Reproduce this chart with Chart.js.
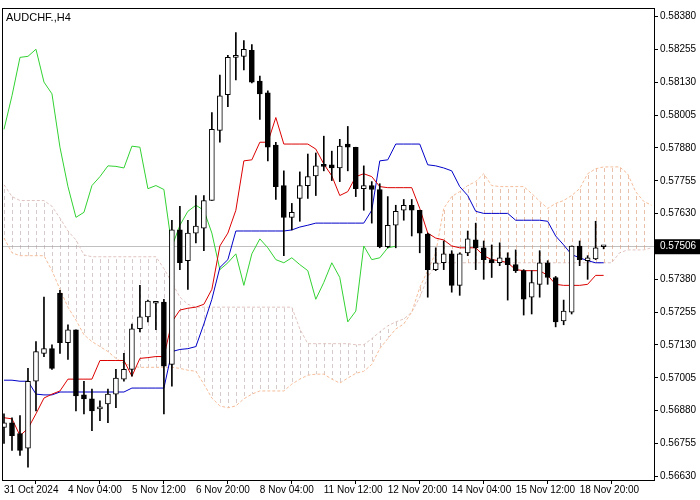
<!DOCTYPE html>
<html><head><meta charset="utf-8">
<script src="https://cdn.jsdelivr.net/npm/chart.js@4.4.1/dist/chart.umd.min.js"></script>
<style>html,body{margin:0;padding:0;background:#fff}canvas{display:block}</style>
</head><body>
<canvas id="c" width="700" height="500"></canvas>
<script>
const chartTitle = "AUDCHF.,H4";
const xTickLabels = {0:"31 Oct 2024",8:"4 Nov 04:00",16:"5 Nov 12:00",24:"6 Nov 20:00",32:"8 Nov 04:00",40:"11 Nov 12:00",48:"12 Nov 20:00",56:"14 Nov 04:00",64:"15 Nov 12:00",72:"18 Nov 20:00"};
const yTicks = [0.56630,0.56755,0.56880,0.57005,0.57130,0.57255,0.57380,0.57505,0.57630,0.57755,0.57880,0.58005,0.58130,0.58255,0.58380];
const lastPrice = 0.57506;

const opens = [0.56816,0.56834,0.56793,0.56737,0.56992,0.57098,0.57116,0.57327,0.57139,0.57188,
0.56940,0.56925,0.56887,0.56906,0.56943,0.57000,0.57037,0.57192,0.57237,0.57289,
0.57293,0.57056,0.57568,0.57451,0.57556,0.57575,0.57680,0.57947,0.58083,0.58225,
0.58229,0.58252,0.58135,0.58090,0.57891,0.57737,0.57616,0.57688,0.57737,0.57774,
0.57812,0.57816,0.57804,0.57895,0.57883,0.57725,0.57737,0.57722,0.57504,0.57586,
0.57643,0.57662,0.57643,0.57552,0.57417,0.57443,0.57477,0.57357,0.57481,0.57530,
0.57500,0.57455,0.57443,0.57462,0.57436,0.57413,0.57312,0.57361,0.57443,0.57387,
0.57222,0.57255,0.57507,0.57451,0.57458,0.57504];
const highs = [0.56868,0.56853,0.56861,0.57041,0.57143,0.57312,0.57131,0.57338,0.57207,0.57188,
0.56992,0.56962,0.56917,0.56962,0.57037,0.57098,0.57210,0.57357,0.57301,0.57293,
0.57304,0.57605,0.57658,0.57605,0.57699,0.57699,0.58015,0.58158,0.58233,0.58319,
0.58289,0.58274,0.58154,0.58098,0.57902,0.57793,0.57669,0.57789,0.57857,0.57861,
0.57925,0.57868,0.57913,0.57962,0.57883,0.57812,0.57752,0.57744,0.57695,0.57662,
0.57684,0.57684,0.57643,0.57556,0.57500,0.57526,0.57489,0.57481,0.57564,0.57594,
0.57526,0.57511,0.57519,0.57481,0.57492,0.57417,0.57413,0.57489,0.57451,0.57391,
0.57301,0.57507,0.57526,0.57470,0.57601,0.57507];
const lows = [0.56755,0.56729,0.56710,0.56665,0.56879,0.57086,0.57037,0.57098,0.57075,0.56879,
0.56868,0.56804,0.56842,0.56834,0.56891,0.56992,0.57011,0.57180,0.57218,0.57188,
0.56868,0.56973,0.57417,0.57342,0.57519,0.57489,0.57680,0.57902,0.58037,0.58139,
0.58177,0.58128,0.57989,0.57831,0.57684,0.57470,0.57568,0.57601,0.57688,0.57699,
0.57793,0.57756,0.57752,0.57793,0.57695,0.57643,0.57594,0.57500,0.57500,0.57500,
0.57605,0.57545,0.57481,0.57312,0.57413,0.57417,0.57331,0.57319,0.57470,0.57417,
0.57380,0.57387,0.57432,0.57301,0.57406,0.57244,0.57248,0.57312,0.57361,0.57199,
0.57207,0.57248,0.57432,0.57380,0.57455,0.57496];
const closes = [0.56834,0.56785,0.56729,0.56992,0.57105,0.57116,0.57041,0.57139,0.57188,0.56936,
0.56925,0.56879,0.56894,0.56943,0.57004,0.57037,0.57192,0.57237,0.57297,0.57291,
0.57049,0.57568,0.57443,0.57556,0.57583,0.57680,0.57951,0.58079,0.58225,0.58229,
0.58256,0.58131,0.58086,0.57883,0.57733,0.57616,0.57635,0.57737,0.57771,0.57812,
0.57810,0.57804,0.57887,0.57883,0.57725,0.57737,0.57722,0.57504,0.57586,0.57639,
0.57662,0.57643,0.57556,0.57417,0.57443,0.57477,0.57357,0.57477,0.57534,0.57500,
0.57455,0.57443,0.57462,0.57436,0.57413,0.57304,0.57368,0.57443,0.57387,0.57218,
0.57259,0.57507,0.57455,0.57462,0.57500,0.57506];
const tenkan = [0.56853,0.56849,0.56785,0.56812,0.56868,0.56928,0.56943,0.56955,0.57000,0.57000,
0.57000,0.57000,0.57071,0.57071,0.57071,0.57071,0.57011,0.57079,0.57082,0.57086,
0.57086,0.57218,0.57263,0.57270,0.57274,0.57285,0.57342,0.57507,0.57556,0.57643,
0.57831,0.57835,0.57902,0.57902,0.57996,0.57895,0.57895,0.57895,0.57895,0.57876,
0.57819,0.57774,0.57699,0.57714,0.57771,0.57782,0.57771,0.57733,0.57729,0.57729,
0.57729,0.57729,0.57650,0.57556,0.57537,0.57530,0.57507,0.57500,0.57500,0.57500,
0.57470,0.57455,0.57451,0.57443,0.57417,0.57413,0.57413,0.57413,0.57395,0.57361,
0.57357,0.57357,0.57357,0.57361,0.57395,0.57395];
const kijun = [0.56996,0.56996,0.56992,0.56992,0.56943,0.56940,0.56940,0.56951,0.56951,0.56951,
0.56951,0.56951,0.56951,0.56951,0.56951,0.56951,0.56966,0.56966,0.56966,0.56966,
0.56966,0.57105,0.57113,0.57116,0.57124,0.57210,0.57304,0.57425,0.57455,0.57564,
0.57564,0.57564,0.57564,0.57564,0.57564,0.57564,0.57568,0.57579,0.57586,0.57594,
0.57594,0.57594,0.57594,0.57594,0.57594,0.57594,0.57643,0.57831,0.57835,0.57895,
0.57895,0.57895,0.57895,0.57816,0.57812,0.57804,0.57793,0.57733,0.57699,0.57639,
0.57631,0.57631,0.57631,0.57631,0.57605,0.57605,0.57605,0.57605,0.57601,0.57545,
0.57511,0.57474,0.57462,0.57451,0.57443,0.57443];
// Senkou span A (82 values, shifted 26 bars forward)
const spanA = [0.57537,0.57481,0.57470,0.57470,0.57470,0.57470,
0.57413,0.57342,0.57274,0.57225,0.57169,0.57143,0.57124,0.57105,0.57079,0.57060,0.57049,
0.57045,0.57045,0.57045,0.57045,0.57045,
0.57041,0.57034,0.57030,0.56981,0.56928,0.56898,0.56891,0.56898,0.56925,0.56943,
0.56955,0.56955,0.56955,0.56955,
0.56981,0.57000,0.57015,0.57019,0.57019,
0.57000,0.56985,0.57004,0.57022,0.57030,0.57056,0.57116,0.57154,0.57191,0.57210,0.57255,0.57349,0.57413,
0.57481,0.57650,0.57695,0.57714,0.57737,0.57752,0.57782,0.57737,0.57733,0.57733,0.57733,0.57733,0.57707,0.57677,0.57650,0.57669,0.57680,0.57699,0.57725,0.57782,0.57801,0.57808,0.57808,0.57808,0.57782,0.57714,0.57677,0.57662];
// Senkou span B
const spanB = [0.57740,0.57695,0.57680,0.57680,0.57680,0.57680,0.57658,0.57613,0.57564,0.57530,0.57473,
0.57466,0.57466,0.57466,0.57466,0.57466,0.57466,0.57466,0.57466,0.57466,
0.57421,0.57368,0.57312,0.57285,
0.57274,0.57274,0.57274,0.57274,0.57274,0.57274,0.57274,0.57274,0.57274,0.57274,0.57274,0.57274,0.57274,
0.57191,0.57135,0.57135,0.57135,
0.57135,0.57135,0.57135,0.57131,0.57131,0.57154,0.57180,0.57203,0.57218,0.57229,0.57255,0.57312,0.57387,
0.57436,0.57443,0.57443,0.57443,0.57443,0.57443,0.57443,0.57443,0.57443,0.57443,0.57443,0.57443,0.57443,0.57443,0.57443,0.57443,0.57443,0.57443,0.57443,0.57443,0.57443,0.57443,0.57443,
0.57481,0.57492,0.57492,0.57492,0.57500];
const chikouShift = 26;

function hatch(color){
  const p=document.createElement('canvas'); p.width=8; p.height=7;
  const g=p.getContext('2d'); g.fillStyle=color; g.fillRect(4,0,1,4);
  return document.getElementById('c').getContext('2d').createPattern(p,'repeat');
}
const wickData = highs.map((h,i)=>({x:i,y:[lows[i],h]}));
const bodyData = opens.map((o,i)=>({x:i,y:[Math.min(o,closes[i]),Math.max(o,closes[i])]}));
const bodyFill = opens.map((o,i)=> closes[i]>=o ? '#ffffff' : '#000000');
const pts = a => a.map((v,i)=>({x:i,y:v}));
const chikou = closes.slice(chikouShift).map((v,i)=>({x:i,y:v}));

const frame = {
  id:'frame',
  afterDraw(ch){
    const c=ch.ctx, a=ch.chartArea;
    c.save();
    c.strokeStyle='#000'; c.lineWidth=1;
    c.strokeRect(a.left+0.5,a.top+0.5,a.right-a.left,a.bottom-a.top);
    c.font='11px "Liberation Sans", Arial'; c.fillStyle='#000'; c.textBaseline='middle';
    c.fillText(chartTitle,a.left+4,a.top+10);
    const y=ch.scales.y.getPixelForValue(lastPrice);
    c.fillStyle='#000'; c.fillRect(a.right+1,y-7,46,15);
    c.fillStyle='#fff'; c.font='10px "Liberation Sans", Arial';
    c.fillText(lastPrice.toFixed(5),a.right+6,y+0.5);
    c.restore();
  },
  beforeDatasetsDraw(ch){
    const c=ch.ctx, a=ch.chartArea;
    const y=Math.round(ch.scales.y.getPixelForValue(lastPrice))+0.5;
    c.save(); c.strokeStyle='#c0c0c0'; c.lineWidth=1;
    c.beginPath(); c.moveTo(a.left,y); c.lineTo(a.right,y); c.stroke(); c.restore();
  }
};

new Chart(document.getElementById('c'),{
  data:{datasets:[
    {type:'line',label:'spanA',data:pts(spanA),borderColor:'#f5bd9a',borderWidth:1,borderDash:[3,2],pointRadius:0,tension:0,
      fill:{target:1,above:hatch('rgba(215,140,100,0.55)'),below:hatch('rgba(175,150,150,0.5)')},order:10},
    {type:'line',label:'spanB',data:pts(spanB),borderColor:'#e0c4c0',borderWidth:1,borderDash:[3,2],pointRadius:0,tension:0,fill:false,order:10},
    {type:'line',label:'chikou',data:chikou,borderColor:'#32d232',borderWidth:1,pointRadius:0,tension:0,order:5},
    {type:'line',label:'kijun',data:pts(kijun),borderColor:'#0000c8',borderWidth:1,pointRadius:0,tension:0,order:4},
    {type:'line',label:'tenkan',data:pts(tenkan),borderColor:'#dc0000',borderWidth:1,pointRadius:0,tension:0,order:3},
    {type:'bar',label:'wick',data:wickData,backgroundColor:'#000',barThickness:1,grouped:false,order:2},
    {type:'bar',label:'body',data:bodyData,backgroundColor:bodyFill,borderColor:'#000',borderWidth:1,borderSkipped:false,barThickness:5,minBarLength:2,grouped:false,order:1}
  ]},
  options:{
    responsive:false,animation:false,
    layout:{padding:{left:2,top:2,right:0,bottom:0}},
    plugins:{legend:{display:false},tooltip:{enabled:false}},
    scales:{
      x:{type:'linear',min:-0.25,max:81.3,offset:false,
        grid:{display:true,drawOnChartArea:false,drawTicks:true,tickLength:4,color:'#000'},
        border:{display:false},
        afterBuildTicks(s){s.ticks=Object.keys(xTickLabels).map(k=>({value:+k}));},
        afterFit(s){s.height=20;},
        ticks:{autoSkip:false,maxRotation:0,align:'start',padding:0,color:'#000',font:{family:'"Liberation Sans", Arial',size:10},
          callback:v=>xTickLabels[v]||''}},
      y:{position:'right',min:0.56616,max:0.58413,
        grid:{display:true,drawOnChartArea:false,tickLength:4,color:'#000'},
        border:{display:false},
        afterBuildTicks(s){s.ticks=yTicks.map(v=>({value:v}));},
        afterFit(s){s.width=46;},
        ticks:{padding:2,color:'#000',font:{family:'"Liberation Sans", Arial',size:10},callback:v=>v.toFixed(5)}}
    }
  },
  plugins:[frame]
});
</script>
</body></html>
